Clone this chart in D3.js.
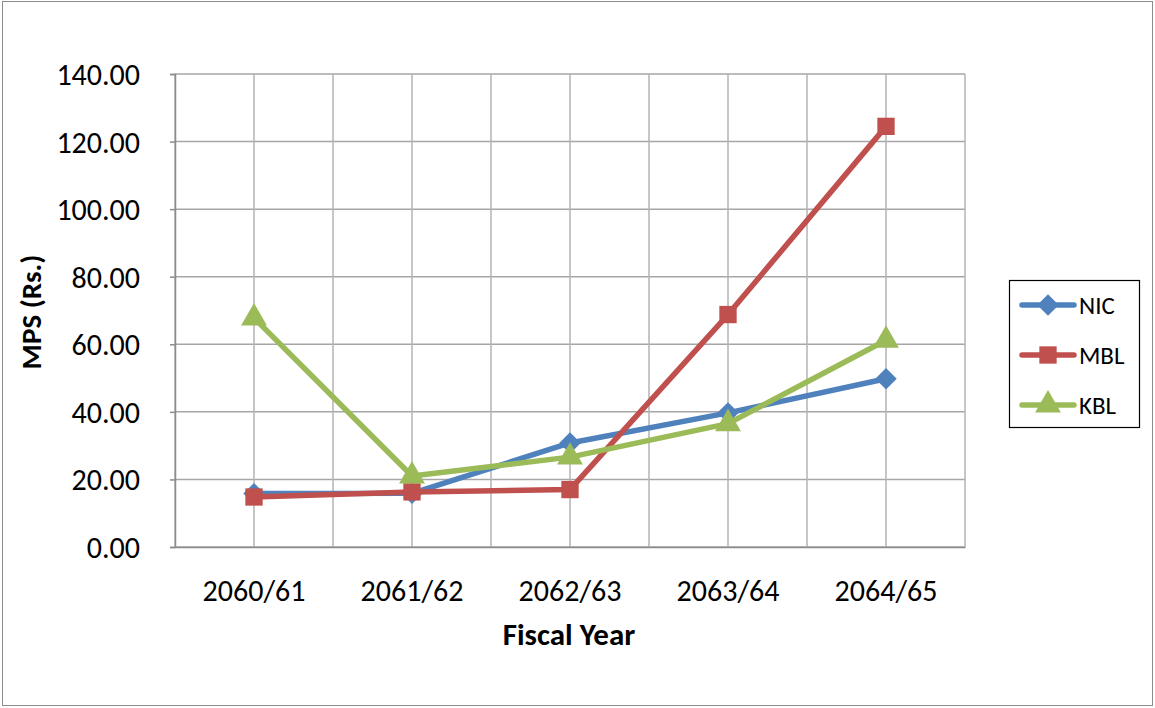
<!DOCTYPE html>
<html><head><meta charset="utf-8">
<script src="https://cdn.jsdelivr.net/npm/d3@7"></script>
<style>body{margin:0;background:#fff}svg{display:block}text{font-family:Carlito,Calibri,Lato,"Open Sans",sans-serif}</style>
</head><body><svg id="c" width="1155" height="708"></svg>
<script>
const categories = ["2060/61","2061/62","2062/63","2063/64","2064/65"];
const seriesNames = ["NIC","MBL","KBL"];
const nicValues = [15.8, 15.9, 30.8, 39.7, 49.8];
const mblValues = [14.8, 16.3, 17.0, 68.8, 124.5];
const kblValues = [67.8, 21.0, 26.6, 36.5, 61.2];
const yTicks = [0,20,40,60,80,100,120,140];
const colors = ["#4F81BD","#C0504D","#9BBB59"];
const symbols = [d3.symbolSquare, d3.symbolSquare, d3.symbolTriangle];
const rotations = [45, 0, 0];
const sizes = [230, 300, 290];
const allValues = [nicValues, mblValues, kblValues];

const svg = d3.select("#c");
svg.append("rect").attr("x",2.5).attr("y",1.5).attr("width",1150).attr("height",704)
  .attr("fill","#fff").attr("stroke","#8c8c8c").attr("stroke-width",1);

const L=175, R=965, T=74, B=547;
const x = d3.scaleBand().domain(categories).range([L,R]);
const y = d3.scaleLinear().domain([0,140]).range([B,T]);
const g = svg.append("g");

g.selectAll(".hg").data(yTicks).join("line")
  .attr("x1",L).attr("x2",R).attr("y1",d=>y(d)).attr("y2",d=>y(d))
  .attr("stroke","#a6a6a6").attr("stroke-width",1.5);
const vlines = [];
categories.forEach(c=>{vlines.push(x(c)); vlines.push(x(c)+x.bandwidth()/2);});
vlines.push(R);
g.selectAll(".vg").data(vlines).join("line")
  .attr("x1",d=>d).attr("x2",d=>d).attr("y1",T).attr("y2",B)
  .attr("stroke","#b3b3b3").attr("stroke-width",1.5);

const yAxis = d3.axisLeft(y).tickValues(yTicks).tickFormat(d3.format(".2f")).tickSize(5).tickPadding(30);
const ya = svg.append("g").attr("transform",`translate(${L},0)`).call(yAxis);
ya.select(".domain").attr("stroke","#8c8c8c").attr("stroke-width",1.5);
ya.selectAll(".tick line").attr("stroke","#8c8c8c").attr("stroke-width",1.5);
ya.selectAll("text").attr("font-size",30).attr("fill","#000").attr("dy","0.35em");

const xAxis = d3.axisBottom(x).tickSize(0).tickPadding(30);
const xa = svg.append("g").attr("transform",`translate(0,${B})`).call(xAxis);
xa.select(".domain").attr("stroke","#8c8c8c").attr("stroke-width",1.5);
xa.selectAll("text").attr("font-size",30).attr("fill","#000").attr("dy","0.35em").attr("y",43);

svg.append("text").attr("x",569).attr("y",645).attr("text-anchor","middle")
  .attr("font-size",31).attr("font-weight","bold").text("Fiscal Year");
svg.append("text").attr("transform","translate(41,312) rotate(-90)").attr("text-anchor","middle")
  .attr("font-size",29).attr("font-weight","bold").text("MPS (Rs.)");

const line = d3.line().x((d,i)=>x(categories[i])+x.bandwidth()/2).y(d=>y(d));
allValues.forEach((vals,si)=>{
  svg.append("path").datum(vals).attr("d",line).attr("fill","none")
    .attr("stroke",colors[si]).attr("stroke-width",5.5).attr("stroke-linejoin","round").attr("stroke-linecap","round");
  svg.selectAll(".m"+si).data(vals).join("path")
    .attr("transform",(d,i)=>`translate(${x(categories[i])+x.bandwidth()/2},${y(d)}) rotate(${rotations[si]})`)
    .attr("d",d3.symbol().type(symbols[si]).size(sizes[si])).attr("fill",colors[si]);
});

const lg = svg.append("g");
lg.append("rect").attr("x",1009.5).attr("y",280.5).attr("width",130).attr("height",147)
  .attr("fill","#fff").attr("stroke","#000").attr("stroke-width",1.2);
seriesNames.forEach((n,i)=>{
  const yy = 305 + i*50;
  lg.append("line").attr("x1",1022).attr("x2",1074).attr("y1",yy).attr("y2",yy)
    .attr("stroke",colors[i]).attr("stroke-width",5.5).attr("stroke-linecap","round");
  lg.append("path").attr("transform",`translate(1048,${yy}) rotate(${rotations[i]})`)
    .attr("d",d3.symbol().type(symbols[i]).size(sizes[i])).attr("fill",colors[i]);
  lg.append("text").attr("x",1079).attr("y",yy).attr("dy","0.35em").attr("font-size",25).text(n);
});
</script></body></html>
